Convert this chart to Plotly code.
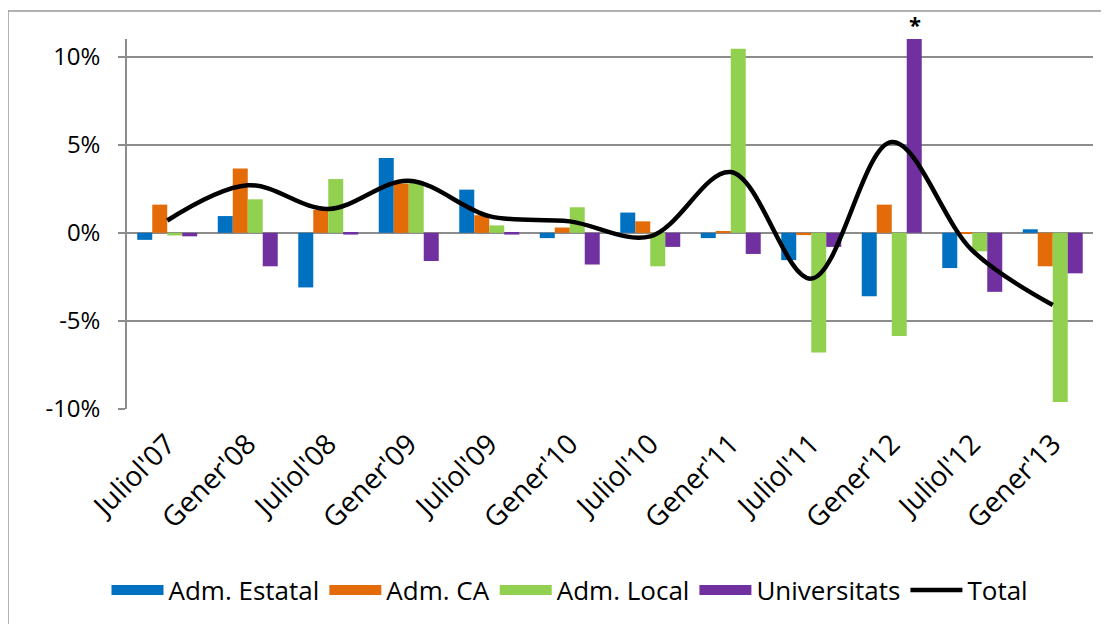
import plotly.graph_objects as go

# periods on the x axis
periods = ["Juliol'07", "Gener'08", "Juliol'08", "Gener'09", "Juliol'09", "Gener'10",
           "Juliol'10", "Gener'11", "Juliol'11", "Gener'12", "Juliol'12", "Gener'13"]

# % change per administration
adm_estatal = [-0.4, 0.95, -3.1, 4.25, 2.45, -0.3, 1.15, -0.3, -1.55, -3.6, -2.0, 0.2]
adm_ca = [1.6, 3.65, 1.3, 2.8, 1.0, 0.3, 0.65, 0.08, -0.13, 1.6, -0.05, -1.9]
adm_local = [-0.15, 1.9, 3.05, 2.95, 0.42, 1.45, -1.9, 10.45, -6.8, -5.85, -1.05, -9.6]
universitats = [-0.2, -1.9, -0.1, -1.6, -0.1, -1.8, -0.8, -1.2, -0.8, 11.0, -3.35, -2.3]
total = [0.7, 2.7, 1.35, 2.95, 0.95, 0.65, -0.2, 3.45, -2.6, 5.15, -1.0, -4.1]

y_ticks = [-10, -5, 0, 5, 10]
y_tick_text = ["-10%", "-5%", "0%", "5%", "10%"]

COLORS = {
    "blue": "#0070C0",
    "orange": "#E36C09",
    "green": "#92D050",
    "purple": "#7030A0",
    "grid": "#8C8C8C",
}
FONT = "Open Sans"

series = [
    ("Adm. Estatal", adm_estatal, COLORS["blue"]),
    ("Adm. CA", adm_ca, COLORS["orange"]),
    ("Adm. Local", adm_local, COLORS["green"]),
    ("Universitats", universitats, COLORS["purple"]),
]

fig = go.Figure()
for name, vals, color in series:
    fig.add_trace(go.Bar(x=periods, y=vals, name=name, marker_color=color,
                         marker_line_width=0, showlegend=False))

fig.add_trace(go.Scatter(x=periods, y=total, mode="lines", name="Total",
                         line=dict(color="black", width=4.5, shape="spline", smoothing=1.0),
                         showlegend=False))

# legend entries (wide swatches like the original)
for name, _, color in series:
    fig.add_trace(go.Scatter(x=[None], y=[None], mode="lines", name=name,
                             line=dict(color=color, width=10)))
fig.add_trace(go.Scatter(x=[None], y=[None], mode="lines", name="Total",
                         line=dict(color="black", width=4.5)))

# the page body adds 8px on the left/top, margins below allow for it
y_min, y_max = -10, 11
fig.update_layout(
    width=1109,
    height=624,
    margin=dict(l=119, r=24, t=31, b=223),
    plot_bgcolor="white",
    paper_bgcolor="white",
    font=dict(family=FONT, size=24, color="black"),
    barmode="group",
    bargap=0.255,
    bargroupgap=0,
    xaxis=dict(type="category", showgrid=False, showline=False, ticks="", automargin=False,
               tickangle=-45, ticklabelstandoff=12, tickfont=dict(size=28)),
    xaxis2=dict(overlaying="x", anchor="free", position=(0 - y_min) / (y_max - y_min),
                range=[-0.5, len(periods) - 0.5], automargin=False,
                tickvals=[i - 0.5 for i in range(len(periods) + 1)],
                ticks="outside", ticklen=8, tickwidth=1.5, tickcolor=COLORS["grid"],
                showticklabels=False, showgrid=False, zeroline=False, showline=False),
    yaxis=dict(range=[y_min, y_max], tickvals=y_ticks, ticktext=y_tick_text, automargin=False,
               showgrid=True, gridcolor=COLORS["grid"], gridwidth=1.5,
               zeroline=True, zerolinecolor=COLORS["grid"], zerolinewidth=1.5,
               showline=True, linecolor=COLORS["grid"], linewidth=1.5,
               ticks="outside", ticklen=7, tickwidth=1.5, tickcolor=COLORS["grid"],
               ticklabelstandoff=13, tickfont=dict(size=24)),
    legend=dict(orientation="h", xref="container", x=562 / 1109, xanchor="center",
                yref="container", y=(624 - 582) / 624, yanchor="middle",
                font=dict(size=26), itemwidth=52, tracegroupgap=0,
                bgcolor="rgba(0,0,0,0)"),
)

# chart frame (left and top edges visible)
fig.add_shape(type="rect", xref="paper", yref="paper",
              x0=(8 - 127) / 966, x1=1.2, y0=-1.0, y1=(409.3 - 11) / 370.3,
              line=dict(color="#999999", width=1.5), layer="below")

# asterisk above the truncated bar
fig.add_annotation(x="Gener'12", y=y_max, xref="x", yref="y", xshift=23, yshift=-2,
                   yanchor="bottom", text="<b>*</b>", showarrow=False,
                   font=dict(size=22, color="black"))

fig.write_html("out.html")
